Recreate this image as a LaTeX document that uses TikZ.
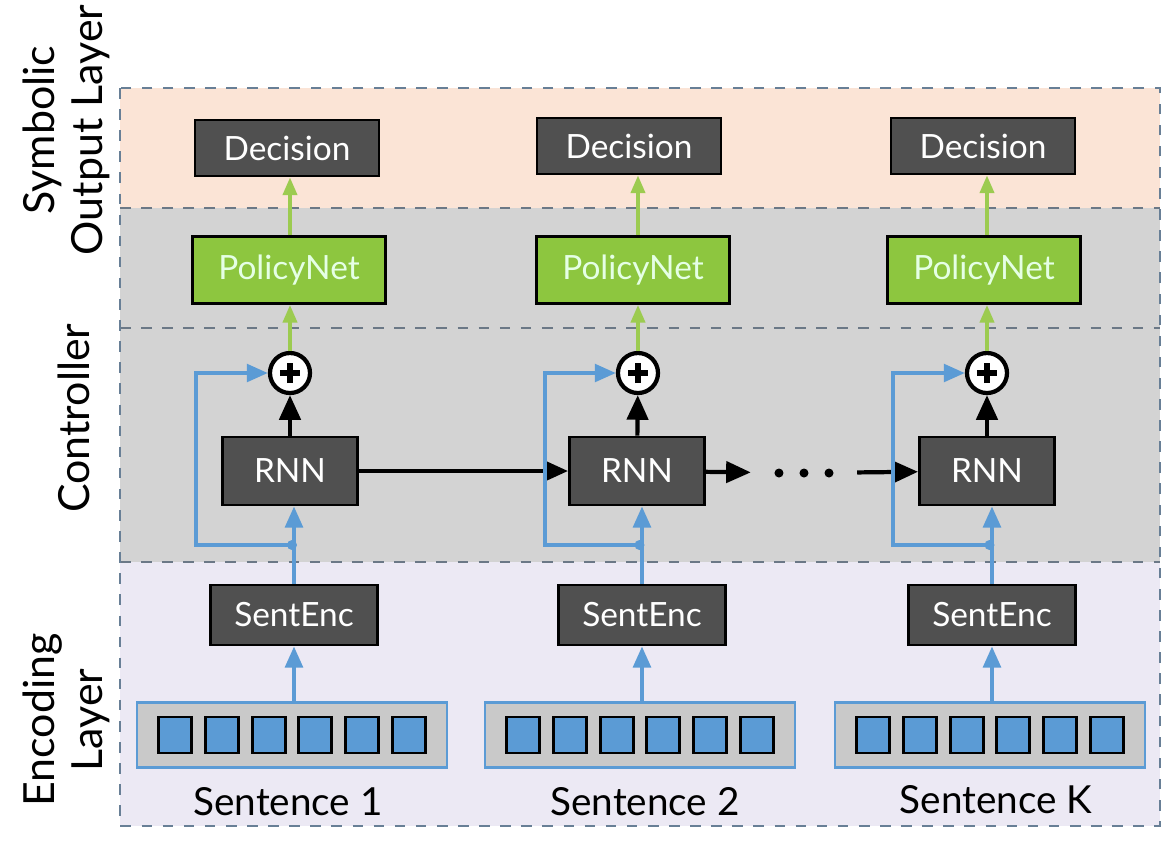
\documentclass[tikz,border=0pt]{standalone}
\usepackage{fontspec}
\setmainfont{Lato}
\usetikzlibrary{arrows.meta,positioning,calc}
\definecolor{peach}{HTML}{FBE4D6}
\definecolor{ctrlgray}{HTML}{D3D3D3}
\definecolor{lavender}{HTML}{ECE9F4}
\definecolor{boxgray}{HTML}{505050}
\definecolor{polgreen}{HTML}{8DC63F}
\definecolor{linegreen}{HTML}{9CCB50}
\definecolor{wordblue}{HTML}{5B9BD5}
\definecolor{sentgray}{HTML}{C9C9C9}
\definecolor{dashgray}{HTML}{6B7886}

\tikzset{
  box/.style={draw=black, fill=boxgray, text=white, line width=0.8pt, inner sep=0pt, font=\fontsize{9.5}{11}\selectfont},
  policy/.style={box, fill=polgreen, text=green!10!white},
  plusnode/.style={circle, draw=black, fill=white, line width=1.2pt, minimum size=0.4cm, inner sep=0pt,
    path picture={\draw[line width=1.5pt] ([xshift=-0.1cm]path picture bounding box.center) -- ([xshift=0.1cm]path picture bounding box.center);
                  \draw[line width=1.5pt] ([yshift=-0.1cm]path picture bounding box.center) -- ([yshift=0.1cm]path picture bounding box.center);}},
  sentbox/.style={draw=wordblue, fill=sentgray, line width=0.6pt, minimum width=3.1cm, minimum height=0.65cm},
  word/.style={draw=black, fill=wordblue, line width=0.8pt, minimum width=0.33cm, minimum height=0.36cm, inner sep=0pt},
  blueline/.style={draw=wordblue, line width=1.1pt, -{Triangle[length=6pt,width=5pt]}},
  greenline/.style={draw=linegreen, line width=1pt, -{Triangle[length=5pt,width=4pt]}},
  blackline/.style={draw=black, line width=1.2pt, -{Triangle[length=7pt,width=6pt]}},
  layerline/.style={dashgray, dashed, line width=0.6pt},
  label/.style={font=\fontsize{11}{12}\selectfont},
  layername/.style={rotate=90, align=center, font=\fontsize{12.2}{13.6}\selectfont}
}

\begin{document}
\begin{tikzpicture}[x=0.01cm, y=-0.01cm]
  \useasboundingbox (0,0) rectangle (1162,850);

  % layer bands
  \fill[peach] (120,88) rectangle (1160,208);
  \fill[ctrlgray] (120,208) rectangle (1160,562);
  \fill[lavender] (120,562) rectangle (1160,826);
  \draw[layerline] (120,208) -- (1160,208);
  \draw[layerline] (120,328) -- (1160,328);
  \draw[layerline] (120,562) -- (1160,562);
  \draw[dashgray!80!wordblue, dashed, line width=0.6pt] (120,88) rectangle (1160,826);

  % layer names
  \node[layername] (symlab) at (66,130) {Symbolic\\Output Layer};
  \node[layername] (ctrllab) at (74,418) {Controller};
  \node[layername] (enclab) at (66,720) {Encoding\\Layer};

  % column 1
  \node[box, minimum width=1.84cm, minimum height=0.56cm] (dec1) at (287,148) {Decision};
  \node[policy, minimum width=1.93cm, minimum height=0.67cm] (pol1) at (289,270) {PolicyNet};
  \node[plusnode] (plus1) at (290,373) {};
  \node[box, minimum width=1.35cm, minimum height=0.68cm] (rnn1) at (290,471) {RNN};
  \node[box, minimum width=1.67cm, minimum height=0.6cm] (enc1) at (294,615) {SentEnc};
  \node[sentbox] (sent1) at (292,735) {};
  \node[label] (name1) at (288,802) {Sentence 1};

  % column 2
  \node[box, minimum width=1.84cm, minimum height=0.56cm] (dec2) at (629,146) {Decision};
  \node[policy, minimum width=1.93cm, minimum height=0.67cm] (pol2) at (633,270) {PolicyNet};
  \node[plusnode] (plus2) at (638,373) {};
  \node[box, minimum width=1.35cm, minimum height=0.68cm] (rnn2) at (637,471) {RNN};
  \node[box, minimum width=1.67cm, minimum height=0.6cm] (enc2) at (642,615) {SentEnc};
  \node[sentbox] (sent2) at (640,735) {};
  \node[label] (name2) at (645,802) {Sentence 2};

  % column 3
  \node[box, minimum width=1.84cm, minimum height=0.56cm] (dec3) at (983,146) {Decision};
  \node[policy, minimum width=1.93cm, minimum height=0.67cm] (pol3) at (984,270) {PolicyNet};
  \node[plusnode] (plus3) at (987,373) {};
  \node[box, minimum width=1.35cm, minimum height=0.68cm] (rnn3) at (987,471) {RNN};
  \node[box, minimum width=1.67cm, minimum height=0.6cm] (enc3) at (992,615) {SentEnc};
  \node[sentbox] (sent3) at (990,735) {};
  \node[label] (name3) at (996,800) {Sentence K};

  % word squares
  \foreach \s in {1,2,3}
    \foreach \k in {-2.5,-1.5,-0.5,0.5,1.5,2.5}
      \node[word] at ([xshift=\k*0.467cm]sent\s.center) {};

  % dots between RNNs
  \node[minimum width=1.05cm, minimum height=0.3cm, inner sep=0pt] (dots) at (804,473) {};
  \foreach \d in {-0.25,0,0.25}
    \fill ([xshift=\d cm]dots.center) circle (0.045cm);

  % recurrent connections
  \draw[blackline] (rnn1) -- (rnn2);
  \draw[blackline] (rnn2) -- (dots);
  \draw[blackline] (dots) -- (rnn3);

  % per column connections
  \foreach \i/\lx in {1/196,2/545,3/893} {
    \coordinate (fork\i) at ($(enc\i.north)!0.5!(rnn\i.south)$);
    \draw[blueline] (sent\i.north -| enc\i) -- (enc\i.south);
    \draw[blueline] (enc\i.north) -- (rnn\i.south -| enc\i.north);
    \draw[blueline] (fork\i) -- (\lx,545) -- (\lx,373) -- (plus\i.west);
    \fill[wordblue] (fork\i) circle (0.05cm);
    \draw[blackline] (rnn\i) -- (plus\i);
    \draw[greenline] (plus\i) -- (pol\i.south -| plus\i);
    \draw[greenline] (pol\i.north -| plus\i) -- (dec\i.south -| plus\i);
  }
\end{tikzpicture}
\end{document}
